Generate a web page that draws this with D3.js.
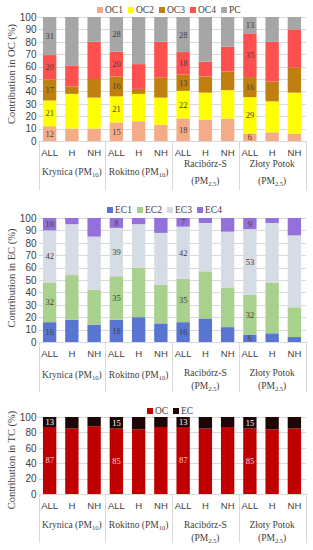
<!DOCTYPE html>
<html>
<head>
<meta charset="utf-8">
<title>OC EC TC</title>
<style>
  body { margin: 0; background: #fff; }
  svg { font-family: "Liberation Serif", "DejaVu Serif", serif; }
  .grid line { stroke: #d9d9d9; shape-rendering: crispEdges; }
  .grid path { display: none; }
  .yaxis path { display: none; }
  .yaxis text { font-size: 10px; fill: #404040; }
  .xaxis path { display: none; }
  .xaxis text { font-size: 9.5px; fill: #404040; }
  .site { font-size: 9.5px; fill: #404040; }
  .legend text { font-size: 9.5px; fill: #404040; }
  .ytitle { font-size: 10.5px; fill: #404040; }
  .sep { stroke: #d9d9d9; shape-rendering: crispEdges; }
</style>
</head>
<body>
<script src="https://cdnjs.cloudflare.com/ajax/libs/d3/7.8.5/d3.min.js"></script>
<script>
// sites and periods
var sites = ["Krynica", "Rokitno", "Racibórz-S", "Złoty Potok"];
var sitePM = ["10", "10", "2.5", "2.5"];
var twoLine = [false, false, true, true];
var periods = ["ALL", "H", "NH"];

// OC fractions in OC, % (ALL, H, NH for each site)
var ocKeys = ["OC1", "OC2", "OC3", "OC4", "PC"];
var oc1 = [12, 10, 10, 15, 16, 13, 18, 17, 18, 6, 7, 6];
var oc2 = [21, 28, 25, 21, 22, 22, 22, 22, 23, 29, 25, 33];
var oc3 = [17, 6, 15, 16, 4, 16, 13, 13, 15, 16, 16, 20];
var oc4 = [20, 17, 30, 20, 20, 29, 18, 12, 20, 35, 32, 31];
var pc  = [31, 39, 20, 28, 38, 20, 28, 36, 24, 13, 20, 10];

// EC fractions in EC, %
var ecKeys = ["EC1", "EC2", "EC3", "EC4"];
var ec1 = [16, 18, 14, 18, 20, 15, 16, 19, 12, 6, 7, 4];
var ec2 = [32, 36, 28, 35, 40, 31, 35, 38, 32, 32, 41, 24];
var ec3 = [42, 41, 43, 39, 35, 42, 42, 39, 45, 53, 48, 58];
var ec4 = [10, 5, 15, 8, 5, 12, 7, 4, 11, 9, 4, 14];

// OC and EC in TC, %
var tcKeys = ["OC", "EC"];
var tcOC = [87, 85, 88, 85, 84, 87, 87, 85, 87, 85, 84, 85];
var tcEC = [13, 15, 12, 15, 16, 13, 13, 15, 13, 15, 16, 15];

var ids = [];
sites.forEach(function(s) {
  periods.forEach(function(p) { ids.push(s + "|" + p); });
});

var svg = d3.select("body").append("svg")
  .attr("width", 313)
  .attr("height", 550);

var x = d3.scaleBand().domain(ids).range([38.5, 305.5])
  .paddingInner(0.4).paddingOuter(0.2);

function drawPanel(p) {
  var data = ids.map(function(id, i) {
    var d = { id: id, i: i };
    p.keys.forEach(function(k, j) { d[k] = p.series[j][i]; });
    return d;
  });

  var y = d3.scaleLinear().domain([0, 1]).range([p.bottom, p.top]);
  var ticks = d3.range(0, 1.0001, p.tickStep);
  var g = svg.append("g");

  // gridlines
  g.append("g").attr("class", "grid")
    .attr("transform", "translate(38.5,0)")
    .call(d3.axisLeft(y).tickValues(ticks).tickSize(-267).tickFormat(""));

  // y axis
  g.append("g").attr("class", "yaxis")
    .attr("transform", "translate(38.5,0)")
    .call(d3.axisLeft(y).tickValues(ticks).tickSize(0).tickPadding(2)
      .tickFormat(function(d) { return Math.round(d * 100); }));

  g.append("text").attr("class", "ytitle")
    .attr("transform", "translate(11," + p.titleY + ") rotate(-90)")
    .attr("text-anchor", "middle")
    .attr("dy", "0.35em")
    .text(p.title);

  // bars
  var stack = d3.stack().keys(p.keys).offset(d3.stackOffsetExpand);
  var layers = stack(data);

  g.selectAll(".layer").data(layers).enter().append("g")
    .attr("fill", function(d, i) { return p.colors[i]; })
    .selectAll("rect").data(function(d) { return d; }).enter().append("rect")
    .attr("x", function(d) { return x(d.data.id); })
    .attr("width", x.bandwidth())
    .attr("y", function(d) { return y(d[1]); })
    .attr("height", function(d) { return y(d[0]) - y(d[1]); });

  // value labels on ALL bars
  layers.forEach(function(layer, li) {
    g.selectAll(null).data(layer.filter(function(d) { return d.data.i % 3 === 0; }))
      .enter().append("text")
      .attr("x", function(d) { return x(d.data.id) + x.bandwidth() / 2; })
      .attr("y", function(d) { return y((d[0] + d[1]) / 2); })
      .attr("dy", "0.35em")
      .attr("text-anchor", "middle")
      .style("font-size", "8.5px")
      .attr("fill", p.labelColors[li])
      .text(function(d) { return d.data[layer.key]; });
  });

  // x axis line
  g.append("line").attr("class", "sep")
    .attr("x1", 38.5).attr("x2", 305.5)
    .attr("y1", p.bottom + 0.5).attr("y2", p.bottom + 0.5);

  // period labels
  g.append("g").attr("class", "xaxis")
    .attr("transform", "translate(0," + p.bottom + ")")
    .call(d3.axisBottom(x).tickSize(0).tickPadding(8)
      .tickFormat(function(id) { return id.split("|")[1]; }));

  // group separators
  var half = x.step() * x.paddingInner() / 2;
  var bounds = [0, 3, 6, 9].map(function(i) { return x(ids[i]) - half; });
  bounds.push(x(ids[11]) + x.bandwidth() + half);
  g.selectAll(null).data(bounds).enter().append("line")
    .attr("class", "sep")
    .attr("x1", function(d) { return Math.round(d) + 0.5; })
    .attr("x2", function(d) { return Math.round(d) + 0.5; })
    .attr("y1", p.bottom).attr("y2", p.sepBottom);

  // site labels
  sites.forEach(function(s, si) {
    var cx = (x(ids[si * 3]) + x(ids[si * 3 + 2]) + x.bandwidth()) / 2;
    if (twoLine[si]) {
      g.append("text").attr("class", "site").attr("text-anchor", "middle")
        .attr("x", cx).attr("y", p.siteY1).text(s);
      var t = g.append("text").attr("class", "site").attr("text-anchor", "middle")
        .attr("x", cx).attr("y", p.siteY2);
      t.append("tspan").text("(PM");
      t.append("tspan").attr("dy", 2).style("font-size", "6.5px").text(sitePM[si]);
      t.append("tspan").attr("dy", -2).text(")");
    } else {
      var t2 = g.append("text").attr("class", "site").attr("text-anchor", "middle")
        .attr("x", cx).attr("y", p.siteY);
      t2.append("tspan").text(s + " (PM");
      t2.append("tspan").attr("dy", 2).style("font-size", "6.5px").text(sitePM[si]);
      t2.append("tspan").attr("dy", -2).text(")");
    }
  });

  // legend
  var lg = g.append("g").attr("class", "legend");
  p.keys.forEach(function(k, i) {
    var lx = p.legendX + i * p.legendStep;
    lg.append("rect").attr("x", lx).attr("y", p.legendY - 3)
      .attr("width", 6).attr("height", 6).attr("fill", p.colors[i]);
    lg.append("text").attr("x", lx + 8).attr("y", p.legendY)
      .attr("dy", "0.35em").text(k);
  });
}

drawPanel({
  keys: ocKeys, series: [oc1, oc2, oc3, oc4, pc],
  colors: ["#F4AC88", "#FFFF00", "#BF800F", "#FF5050", "#A6A6A6"],
  labelColors: ["#404040", "#404040", "#404040", "#404040", "#404040"],
  top: 17, bottom: 141, tickStep: 0.1,
  title: "Contribution in OC (%)", titleY: 74,
  siteY: 175, siteY1: 167, siteY2: 184, sepBottom: 190,
  legendX: 97, legendY: 10, legendStep: 31
});

drawPanel({
  keys: ecKeys, series: [ec1, ec2, ec3, ec4],
  colors: ["#5875D2", "#A9D18E", "#D6DCE5", "#9370DB"],
  labelColors: ["#404040", "#404040", "#404040", "#404040"],
  top: 218, bottom: 342, tickStep: 0.1,
  title: "Contribution in EC (%)", titleY: 278,
  siteY: 378, siteY1: 376, siteY2: 389, sepBottom: 392,
  legendX: 107, legendY: 210, legendStep: 30
});

drawPanel({
  keys: tcKeys, series: [tcOC, tcEC],
  colors: ["#C00000", "#1F0606"],
  labelColors: ["#F8D0D0", "#FFFFFF"],
  top: 417, bottom: 494, tickStep: 0.2,
  title: "Contribution in TC (%)", titleY: 460,
  siteY: 528, siteY1: 528, siteY2: 541, sepBottom: 543,
  legendX: 147, legendY: 411, legendStep: 26
});
</script>
</body>
</html>
